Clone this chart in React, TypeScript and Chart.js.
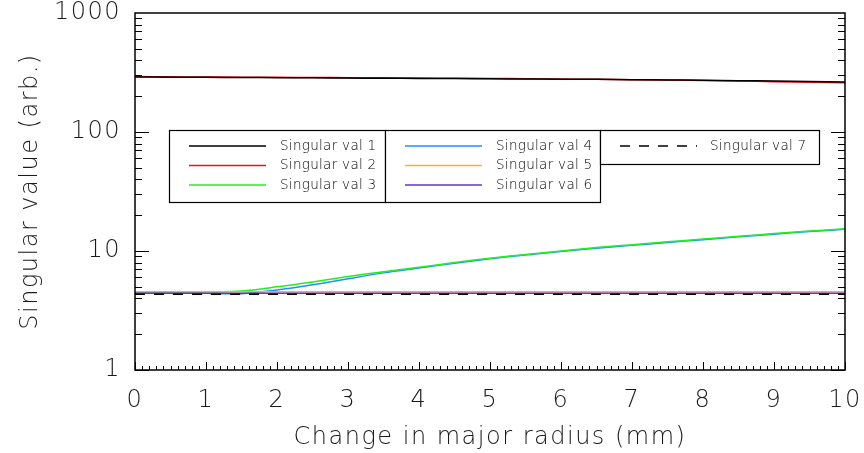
import React, { useEffect, useRef } from 'react';
import { Chart, registerables } from 'chart.js';

Chart.register(...registerables);

const xValues = [0, 0.5, 1, 1.5, 2, 2.5, 3, 3.5, 4, 4.5, 5, 5.5, 6, 6.5, 7, 7.5, 8, 8.5, 9, 9.5, 10];
const sv1 = [290, 289, 288, 287, 286, 285, 284, 283, 282, 281, 280, 279, 278, 277, 275, 274, 272, 270, 268, 266, 263];
const sv2 = [292, 291, 290, 289, 288, 287, 286, 285, 284, 283, 282, 280, 279, 277, 275, 273, 271, 268, 265, 262, 259];
const sv3 = [4.55, 4.55, 4.55, 4.62, 5.0, 5.5, 6.1, 6.7, 7.3, 8.0, 8.7, 9.35, 10.0, 10.7, 11.3, 11.95, 12.6, 13.3, 14.0, 14.7, 15.4];
const sv4 = [4.45, 4.45, 4.42, 4.38, 4.7, 5.2, 5.85, 6.55, 7.2, 7.9, 8.6, 9.25, 9.9, 10.55, 11.15, 11.8, 12.45, 13.15, 13.85, 14.55, 15.2];
const sv5 = [4.55, 4.55, 4.55, 4.55, 4.55, 4.55, 4.55, 4.55, 4.55, 4.55, 4.55, 4.55, 4.55, 4.55, 4.55, 4.55, 4.55, 4.55, 4.55, 4.55, 4.55];
const sv6 = [4.42, 4.42, 4.42, 4.42, 4.42, 4.42, 4.42, 4.42, 4.42, 4.42, 4.42, 4.42, 4.42, 4.42, 4.42, 4.42, 4.42, 4.42, 4.42, 4.42, 4.42];
const sv7 = [4.33, 4.33, 4.33, 4.33, 4.33, 4.33, 4.33, 4.33, 4.33, 4.33, 4.33, 4.33, 4.33, 4.33, 4.33, 4.33, 4.33, 4.33, 4.33, 4.33, 4.33];

const seriesLabels = ['Singular val 1', 'Singular val 2', 'Singular val 3', 'Singular val 4', 'Singular val 5', 'Singular val 6', 'Singular val 7'];
const seriesColors = ['#000000', '#ee1111', '#22ee22', '#1e90ff', '#ffb020', '#6633cc', '#000000'];
const seriesData = [sv1, sv2, sv3, sv4, sv5, sv6, sv7];

const yTickValues = [1, 10, 100, 1000];
const xTitle = 'Change in major radius (mm)';
const yTitle = 'Singular value (arb.)';

const FONT = '"DejaVu Sans"';
const TEXT = '#1a1a1a';

const spacingPlugin = {
  id: 'spacing',
  beforeDraw(chart: any) {
    chart.ctx.letterSpacing = '1.5px';
  },
};

const framePlugin = {
  id: 'frame',
  afterDraw(chart: any) {
    const { ctx, chartArea: a, scales } = chart;
    ctx.save();
    ctx.strokeStyle = '#000';
    ctx.lineWidth = 1.5;
    ctx.strokeRect(a.left, a.top, a.right - a.left, a.bottom - a.top);
    ctx.lineWidth = 1;
    ctx.beginPath();
    for (let i = 0; i <= 100; i++) {
      const px = Math.round(scales.x.getPixelForValue(i / 10)) + 0.5;
      const len = i % 10 === 0 ? 8 : 4;
      ctx.moveTo(px, a.bottom);
      ctx.lineTo(px, a.bottom - len);
    }
    for (let d = 0; d < 3; d++) {
      for (let m = 1; m <= 9; m++) {
        const v = m * Math.pow(10, d);
        const py = Math.round(scales.y.getPixelForValue(v)) + 0.5;
        const len = m === 1 ? 14 : 7;
        ctx.moveTo(a.left, py);
        ctx.lineTo(a.left + len, py);
        ctx.moveTo(a.right, py);
        ctx.lineTo(a.right - len, py);
      }
    }
    ctx.stroke();

    // legend
    const boxes = [
      { x: 169, y: 130, w: 216, h: 72, items: [0, 1, 2] },
      { x: 385, y: 130, w: 215, h: 72, items: [3, 4, 5] },
      { x: 600, y: 130, w: 219, h: 34, items: [6] },
    ];
    ctx.font = `200 13.5px ${FONT}`;
    ctx.letterSpacing = '0.3px';
    ctx.textBaseline = 'middle';
    ctx.textAlign = 'left';
    boxes.forEach((b) => {
      ctx.fillStyle = '#fff';
      ctx.fillRect(b.x, b.y, b.w, b.h);
      ctx.strokeStyle = '#000';
      ctx.lineWidth = 1.2;
      ctx.setLineDash([]);
      ctx.strokeRect(b.x + 0.5, b.y + 0.5, b.w, b.h);
      b.items.forEach((idx, r) => {
        const ry = b.y + 16 + r * 19.5;
        ctx.strokeStyle = seriesColors[idx];
        ctx.lineWidth = 1.3;
        ctx.setLineDash(idx === 6 ? [10, 9] : []);
        ctx.beginPath();
        ctx.moveTo(b.x + 20, ry);
        ctx.lineTo(b.x + 97, ry);
        ctx.stroke();
        ctx.setLineDash([]);
        ctx.fillStyle = '#000';
        ctx.fillText(seriesLabels[idx], b.x + (idx === 6 ? 110 : 111), ry);
      });
    });
    ctx.restore();
  },
};

export default function App() {
  const ref = useRef<HTMLCanvasElement | null>(null);
  useEffect(() => {
    if (!ref.current) return;
    const order = [1, 0, 3, 2, 4, 5, 6];
    const axisFont = { family: FONT, size: 24, weight: '200' };
    const chart = new Chart(ref.current, {
      type: 'line',
      data: {
        labels: xValues,
        datasets: seriesData.map((d, i) => ({
          label: seriesLabels[i],
          data: d.map((v, j) => ({ x: xValues[j], y: v })),
          borderColor: seriesColors[i],
          backgroundColor: seriesColors[i],
          borderWidth: 1.5,
          borderDash: i === 6 ? [10, 9] : [],
          pointRadius: 0,
          tension: 0.3,
          order: 10 - order.indexOf(i),
        })),
      },
      options: {
        responsive: false,
        animation: false,
        layout: { padding: { top: 13, right: 19, left: 0, bottom: 0 } },
        plugins: { legend: { display: false }, tooltip: { enabled: false } },
        scales: {
          x: {
            type: 'linear',
            min: 0,
            max: 10,
            grid: { display: false, drawTicks: false },
            border: { display: false },
            ticks: { stepSize: 1, font: axisFont, color: TEXT, padding: 16, maxRotation: 0 },
            title: { display: true, text: xTitle, font: axisFont, color: TEXT, padding: { top: 0, bottom: 1 } },
            afterFit(s: any) { s.height = 83; s.paddingLeft = 0; s.paddingRight = 0; },
          },
          y: {
            type: 'logarithmic',
            min: 1,
            max: 1000,
            grid: { display: false, drawTicks: false },
            border: { display: false },
            afterBuildTicks(s: any) { s.ticks = yTickValues.map((v) => ({ value: v })); },
            ticks: { callback: (v: any) => String(v), font: axisFont, color: TEXT, padding: 14 },
            title: { display: true, text: yTitle, font: axisFont, color: TEXT, padding: { top: 16, bottom: 0 } },
            afterFit(s: any) { s.width = 135; s.paddingTop = 0; s.paddingBottom = 0; },
          },
        },
      },
      plugins: [spacingPlugin, framePlugin],
    } as any);
    return () => chart.destroy();
  }, []);
  return (
    <div style={{ position: 'absolute', left: 0, top: 0, width: 864, height: 453 }}>
      <canvas ref={ref} width={864} height={453} />
    </div>
  );
}
